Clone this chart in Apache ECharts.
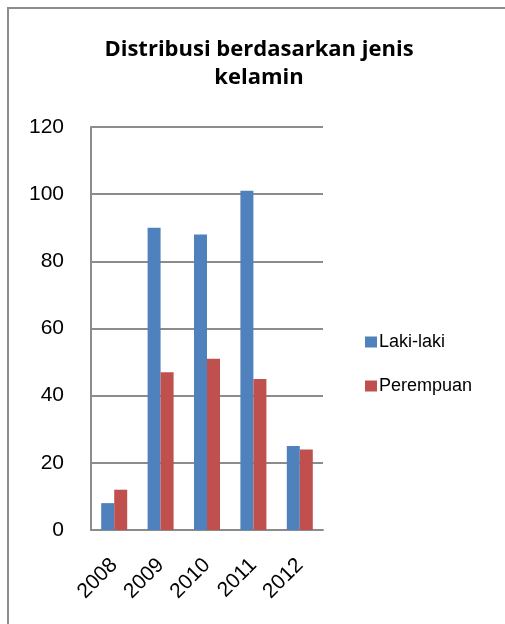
<!DOCTYPE html>
<html><head><meta charset="utf-8">
<script src="https://cdn.jsdelivr.net/npm/echarts@6/dist/echarts.min.js"></script>
<style>html,body{margin:0;padding:0;background:#fff}#c{width:505px;height:624px}</style>
</head><body><div id="c"></div>
<script>
const categories = ['2008','2009','2010','2011','2012'];
const lakiLaki = [8, 90, 88, 101, 25];
const perempuan = [12, 47, 51, 45, 24];
const seriesNames = ['Laki-laki','Perempuan'];
const FONT = '"Liberation Sans", Arial, sans-serif';
const chart = echarts.init(document.getElementById('c'));
chart.setOption({
  animation: false,
  backgroundColor: '#fff',
  graphic: [{type:'rect', shape:{x:8,y:8,width:700,height:800}, style:{fill:'none', stroke:'#8c8c8c', lineWidth:2}, z:-1}],
  title: {
    text: 'Distribusi berdasarkan jenis\nkelamin',
    left: 254, textAlign: 'center', top: 31,
    textStyle: {fontFamily: '"Open Sans", sans-serif', fontWeight: 'bold', fontSize: 22, color: '#000', lineHeight: 28}
  },
  legend: {
    orient: 'vertical', left: 360, top: 328, itemGap: 26,
    itemWidth: 12, itemHeight: 11, icon: 'rect',
    textStyle: {fontFamily: FONT, fontSize: 18, color: '#000', padding:[0,0,0,-3]},
    data: seriesNames
  },
  grid: {left: 91, right: 182, top: 127, bottom: 94},
  xAxis: {
    type: 'category', data: categories,
    axisLine: {lineStyle: {color: '#8c8c8c', width: 2}},
    axisTick: {show: false},
    axisLabel: {rotate: 45, fontFamily: FONT, fontSize: 21, color: '#000', margin: 32}
  },
  yAxis: {
    type: 'value', min: 0, max: 120, interval: 20,
    axisLine: {show: true, lineStyle: {color: '#8c8c8c', width: 2}},
    axisTick: {show: false},
    splitLine: {lineStyle: {color: '#8c8c8c', width: 2}},
    axisLabel: {fontFamily: FONT, fontSize: 21, color: '#000', margin: 27}
  },
  series: [
    {name: seriesNames[0], type: 'bar', data: lakiLaki, barWidth: 13, barGap: '0%', itemStyle: {color: '#4f81bd'}},
    {name: seriesNames[1], type: 'bar', data: perempuan, barWidth: 13, itemStyle: {color: '#c0504d'}}
  ]
});
</script></body></html>
